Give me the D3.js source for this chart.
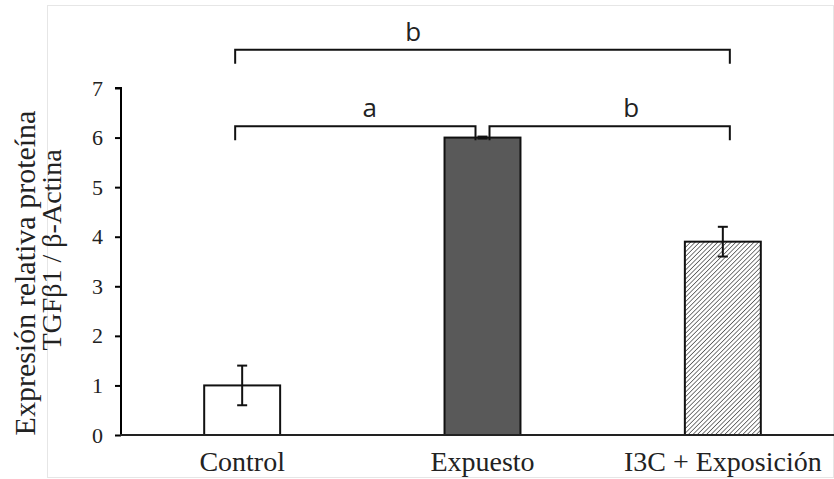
<!DOCTYPE html>
<html>
<head>
<meta charset="utf-8">
<script src="https://cdn.jsdelivr.net/npm/d3@7"></script>
<style>
  body { margin: 0; background: #fff; }
</style>
</head>
<body>
<div id="chart"></div>
<script>
// chart data
var categories = ["Control", "Expuesto", "I3C + Exposición"];
var values = [1.0, 6.0, 3.9];
var errors = [0.4, 0.02, 0.3];
var yTicks = [0, 1, 2, 3, 4, 5, 6, 7];
var bracketFrom = [0, 0, 1];
var bracketTo = [2, 1, 2];
var bracketLevel = [7.77, 6.23, 6.23];
var bracketLabel = ["b", "a", "b"];
var bracketLabelAt = [0.36, 0.56, 0.59];

var width = 834, height = 479;
var serif = "Liberation Serif, Times New Roman, serif";

var svg = d3.select("#chart").append("svg")
    .attr("width", width)
    .attr("height", height);

// faint frame round the picture
svg.append("rect")
    .attr("x", 47.5).attr("y", 5.5)
    .attr("width", 786).attr("height", 472)
    .attr("fill", "none")
    .attr("stroke", "#e6e6e6")
    .attr("stroke-width", 1);

var defs = svg.append("defs");
var hatch = defs.append("pattern")
    .attr("id", "hatch")
    .attr("patternUnits", "userSpaceOnUse")
    .attr("width", 3.2).attr("height", 3.2)
    .attr("patternTransform", "rotate(45)");
hatch.append("rect").attr("width", 3.2).attr("height", 3.2).attr("fill", "#fff");
hatch.append("line")
    .attr("x1", 0).attr("y1", 0).attr("x2", 0).attr("y2", 3.2)
    .attr("stroke", "#333").attr("stroke-width", 1.3);

var x = d3.scaleBand()
    .domain(categories)
    .range([122, 843])
    .paddingInner(0.684)
    .paddingOuter(0.342);

var y = d3.scaleLinear()
    .domain([0, 7])
    .range([435, 88]);

var fills = ["#fff", "#595959", "url(#hatch)"];

// y axis
var yAxis = svg.append("g")
    .attr("transform", "translate(121,0)")
    .call(d3.axisLeft(y).tickValues(yTicks).tickFormat(d3.format("d")).tickSize(6).tickPadding(12));
yAxis.select(".domain").attr("stroke", "#000").attr("stroke-width", 2)
    .attr("d", "M-6," + y(7) + "H0V" + y(0));
yAxis.selectAll(".tick line").attr("stroke", "#000").attr("stroke-width", 2);
yAxis.selectAll(".tick text")
    .attr("font-family", serif)
    .attr("font-size", 22)
    .attr("fill", "#222");

// bars
svg.selectAll("rect.bar").data(categories)
    .enter()
    .append("rect")
    .attr("class", "bar")
    .attr("x", d => x(d))
    .attr("y", (d, i) => y(values[i]))
    .attr("width", x.bandwidth())
    .attr("height", (d, i) => y(0) - y(values[i]))
    .attr("fill", (d, i) => fills[i])
    .attr("stroke", "#111")
    .attr("stroke-width", 2);

// x axis line
svg.append("line")
    .attr("x1", 120).attr("x2", 834)
    .attr("y1", y(0)).attr("y2", y(0))
    .attr("stroke", "#222").attr("stroke-width", 2);

// error bars
var err = svg.append("g").attr("stroke", "#111").attr("stroke-width", 2);
categories.forEach(function (c, i) {
    var cx = x(c) + x.bandwidth() / 2;
    var top = y(values[i] + errors[i]), bot = y(values[i] - errors[i]);
    err.append("line").attr("x1", cx).attr("x2", cx).attr("y1", top).attr("y2", bot);
    err.append("line").attr("x1", cx - 5).attr("x2", cx + 5).attr("y1", top).attr("y2", top);
    err.append("line").attr("x1", cx - 5).attr("x2", cx + 5).attr("y1", bot).attr("y2", bot);
});

// category labels
svg.selectAll("text.cat").data(categories)
    .enter()
    .append("text")
    .attr("class", "cat")
    .attr("x", d => x(d) + x.bandwidth() / 2)
    .attr("y", 471)
    .attr("text-anchor", "middle")
    .attr("font-family", serif)
    .attr("font-size", 28)
    .attr("fill", "#222")
    .text(d => d);

// axis title, two lines
svg.append("text")
    .attr("transform", "translate(35,273) rotate(-90)")
    .attr("text-anchor", "middle")
    .attr("font-family", serif)
    .attr("font-size", 30)
    .attr("fill", "#222")
    .text("Expresión relativa proteína");
svg.append("text")
    .attr("transform", "translate(61,250) rotate(-90)")
    .attr("text-anchor", "middle")
    .attr("font-family", serif)
    .attr("font-size", 28)
    .attr("fill", "#222")
    .text("TGFβ1 / β-Actina");

// significance brackets
var center = i => x(categories[i]) + x.bandwidth() / 2;
var last = categories.length - 1;
var drop = 14;
var br = svg.append("g");
bracketLabel.forEach(function (lab, k) {
    var x1 = center(bracketFrom[k]) + (bracketFrom[k] === 0 ? -7 : 7);
    var x2 = center(bracketTo[k]) + (bracketTo[k] === last ? 7 : -7);
    var by = y(bracketLevel[k]);
    br.append("path")
        .attr("d", "M" + x1 + "," + (by + drop) + "V" + by + "H" + x2 + "V" + (by + drop))
        .attr("fill", "none")
        .attr("stroke", "#111")
        .attr("stroke-width", 2);
    br.append("text")
        .attr("x", x1 + (x2 - x1) * bracketLabelAt[k])
        .attr("y", by - 9)
        .attr("text-anchor", "middle")
        .attr("font-family", "Open Sans, Noto Sans, sans-serif")
        .attr("font-size", 26)
        .attr("fill", "#222")
        .text(lab);
});
</script>
</body>
</html>
